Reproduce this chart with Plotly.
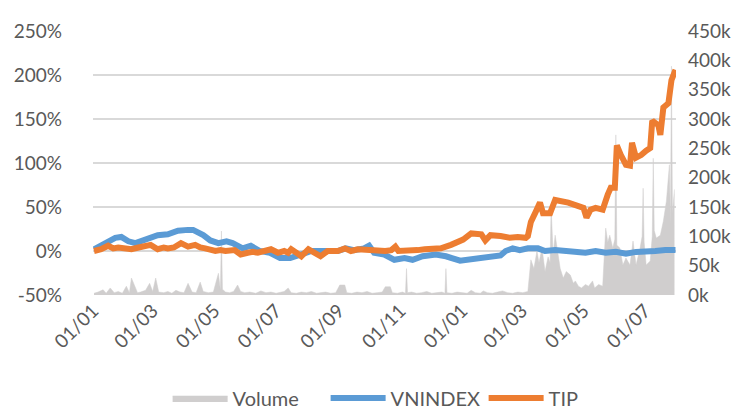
import plotly.graph_objects as go

# ---- data ----
tip_dates = ["2018-01-02","2018-01-09","2018-01-16","2018-01-21","2018-01-26","2018-02-03","2018-02-08",
             "2018-02-15","2018-02-21","2018-02-27","2018-03-06","2018-03-12","2018-03-16","2018-03-22",
             "2018-03-29","2018-04-05","2018-04-12","2018-04-17","2018-04-22","2018-04-27","2018-05-02",
             "2018-05-07","2018-05-12","2018-05-21","2018-05-27","2018-06-03","2018-06-08","2018-06-13",
             "2018-06-19","2018-06-26","2018-07-03","2018-07-09","2018-07-13","2018-07-16","2018-07-20",
             "2018-07-26","2018-08-02","2018-08-08","2018-08-14","2018-08-21","2018-08-31","2018-09-07",
             "2018-09-13","2018-09-20","2018-09-30","2018-10-10","2018-10-17","2018-10-23","2018-10-27",
             "2018-10-30","2018-11-09","2018-11-18","2018-11-25","2018-12-03","2018-12-11","2018-12-21",
             "2018-12-28","2019-01-02","2019-01-10","2019-01-17","2019-01-20","2019-01-24","2019-01-29",
             "2019-02-08","2019-02-17","2019-02-25","2019-03-05","2019-03-07","2019-03-10","2019-03-15",
             "2019-03-19","2019-03-22","2019-03-29","2019-04-03","2019-04-09","2019-04-16","2019-04-26",
             "2019-05-01","2019-05-04","2019-05-08","2019-05-13","2019-05-20","2019-05-25","2019-05-28",
             "2019-06-01","2019-06-03","2019-06-07","2019-06-12","2019-06-16","2019-06-18","2019-06-22",
             "2019-06-27","2019-07-02","2019-07-06","2019-07-08","2019-07-14","2019-07-16","2019-07-19",
             "2019-07-24","2019-07-27","2019-07-31"]
tip_pct = [0, 2, 6, 3, 4, 2, 2,
           4, 5, 7, 2, 4, 3, 4,
           9, 5, 7, 4, 3, 1, 0,
           1, 0, 1, -4, -2, -1, -2,
           0, 2, -2, 0, -2, 2, -1,
           -6, 2, -2, -6, 0, 0, 3,
           0, 2, 1, 1, 0, 1, 5,
           0, 0, 1, 2, 2, 3, 7,
           11, 13, 20, 20, 19, 12, 18,
           17, 15, 16, 15, 17, 33, 45,
           55, 43, 43, 58, 57, 55, 51,
           49, 38, 47, 49, 47, 64, 72,
           72, 120, 109, 98, 97, 123, 106,
           109, 114, 117, 148, 143, 132, 163,
           168, 194, 206]

vn_dates = ["2018-01-02","2018-01-11","2018-01-23","2018-01-29","2018-02-05","2018-02-12","2018-02-17",
            "2018-02-24","2018-03-06","2018-03-16","2018-03-26","2018-04-05","2018-04-10","2018-04-20",
            "2018-04-27","2018-05-05","2018-05-13","2018-05-19","2018-05-29","2018-06-06","2018-06-15",
            "2018-06-25","2018-07-05","2018-07-15","2018-07-25","2018-08-05","2018-08-18","2018-08-31",
            "2018-09-08","2018-09-16","2018-09-26","2018-10-01","2018-10-06","2018-10-16","2018-10-26",
            "2018-11-05","2018-11-13","2018-11-23","2018-12-06","2018-12-16","2018-12-30","2019-01-05",
            "2019-01-15","2019-01-29","2019-02-08","2019-02-13","2019-02-20","2019-02-27","2019-03-07",
            "2019-03-17","2019-03-24","2019-04-03","2019-04-13","2019-04-23","2019-05-03","2019-05-13",
            "2019-05-23","2019-06-02","2019-06-12","2019-06-22","2019-07-01","2019-07-11","2019-07-21",
            "2019-07-31"]
vn_pct = [2, 7, 15, 16, 11, 9, 11,
          15, 18, 19, 23, 24, 24, 18,
          12, 9, 11, 9, 3, 6, 0,
          -2, -8, -8, -4, 0, 0, 0,
          3, 1, 3, 6, -2, -4, -10,
          -8, -10, -6, -4, -6, -11, -10,
          -8, -6, -5, 0, 3, 1, 3,
          3, 0, 1, 0, -1, -2, 0,
          -2, -1, -3, -1, -1, 0, 1,
          1]

vol_dates = ["2018-01-02","2018-01-06","2018-01-11","2018-01-14","2018-01-18","2018-01-22","2018-01-26",
             "2018-01-30","2018-02-03","2018-02-06","2018-02-08","2018-02-11","2018-02-14","2018-02-17",
             "2018-02-22","2018-02-26","2018-03-01","2018-03-04","2018-03-07","2018-03-12","2018-03-16",
             "2018-03-20","2018-03-24","2018-03-28","2018-04-01","2018-04-05","2018-04-09","2018-04-13",
             "2018-04-17","2018-04-20","2018-04-25","2018-04-30","2018-05-05","2018-05-07","2018-05-08",
             "2018-05-09","2018-05-12","2018-05-16","2018-05-20","2018-05-24","2018-05-27","2018-05-31",
             "2018-06-05","2018-06-11","2018-06-16","2018-06-21","2018-06-26","2018-07-01","2018-07-05",
             "2018-07-09","2018-07-13","2018-07-16","2018-07-21","2018-07-26","2018-07-31","2018-08-05",
             "2018-08-10","2018-08-14","2018-08-19","2018-08-24","2018-08-29","2018-09-02","2018-09-07",
             "2018-09-09","2018-09-14","2018-09-19","2018-09-24","2018-09-29","2018-10-04","2018-10-09",
             "2018-10-14","2018-10-17","2018-10-22","2018-10-24","2018-10-29","2018-11-03","2018-11-06",
             "2018-11-07","2018-11-08","2018-11-12","2018-11-17","2018-11-22","2018-11-27","2018-12-02",
             "2018-12-07","2018-12-12","2018-12-15","2018-12-16","2018-12-17","2018-12-22","2018-12-27",
             "2019-01-01","2019-01-06","2019-01-10","2019-01-14","2019-01-19","2019-01-22","2019-01-26",
             "2019-01-31","2019-02-05","2019-02-10","2019-02-15","2019-02-20","2019-02-25","2019-03-02",
             "2019-03-07","2019-03-10","2019-03-13","2019-03-16","2019-03-18","2019-03-21","2019-03-24",
             "2019-03-27","2019-03-29","2019-03-30","2019-04-01","2019-04-03","2019-04-06","2019-04-08",
             "2019-04-11","2019-04-14","2019-04-18","2019-04-21","2019-04-23","2019-04-26","2019-04-29",
             "2019-05-03","2019-05-06","2019-05-10","2019-05-12","2019-05-16","2019-05-20","2019-05-23",
             "2019-05-25","2019-05-27","2019-05-30","2019-06-01","2019-06-02","2019-06-03","2019-06-06",
             "2019-06-09","2019-06-12","2019-06-16","2019-06-19","2019-06-22","2019-06-26","2019-06-28",
             "2019-06-29","2019-06-30","2019-07-02","2019-07-06","2019-07-08","2019-07-09","2019-07-10",
             "2019-07-12","2019-07-16","2019-07-19","2019-07-22","2019-07-25","2019-07-26","2019-07-27",
             "2019-07-28","2019-07-30"]
vol_k = [3, 5, 9, 3, 12, 4, 6,
         3, 15, 4, 29, 15, 4, 5,
         8, 20, 6, 29, 5, 4, 6,
         3, 8, 5, 4, 20, 5, 4,
         22, 6, 4, 5, 37, 8, 109,
         10, 5, 4, 6, 17, 6, 4,
         5, 3, 7, 4, 5, 3, 4,
         6, 12, 4, 3, 5, 4, 6,
         3, 4, 5, 3, 4, 17, 17,
         4, 3, 5, 4, 6, 3, 4,
         5, 14, 14, 4, 3, 5, 3,
         45, 4, 5, 3, 4, 6, 3,
         4, 5, 3, 45, 4, 3, 5,
         4, 3, 8, 4, 3, 7, 4,
         3, 5, 7, 4, 3, 5, 4,
         6, 60, 45, 75, 55, 80, 40,
         65, 55, 150, 70, 102, 68, 45,
         29, 40, 34, 20, 24, 15, 12,
         18, 15, 24, 12, 18, 15, 114,
         90, 102, 80, 95, 273, 85, 80,
         51, 63, 51, 92, 51, 80, 100,
         182, 90, 51, 58, 100, 233, 110,
         97, 102, 126, 160, 222, 120, 390,
         140, 180]

pct_ticks = [-50, 0, 50, 100, 150, 200, 250]
pct_labels = [f"{v}%" for v in pct_ticks]
vol_ticks = [0, 50, 100, 150, 200, 250, 300, 350, 400, 450]
vol_labels = [f"{v}k" for v in vol_ticks]

FONT = "Lato"
TXT = "#595959"
GRID = "#d9d9d9"
TICKSIZE = 19

fig = go.Figure()
fig.add_trace(go.Scatter(x=vol_dates, y=vol_k, name="Volume", mode="lines",
                         line=dict(color="#d0cece", width=0.5), fill="tozeroy",
                         fillcolor="#d0cece", yaxis="y"))
fig.add_trace(go.Scatter(x=vn_dates, y=vn_pct, name="VNINDEX", mode="lines",
                         line=dict(color="#5b9bd5", width=6), yaxis="y2"))
fig.add_trace(go.Scatter(x=tip_dates, y=tip_pct, name="TIP", mode="lines",
                         line=dict(color="#ed7d31", width=6), yaxis="y2"))

fig.update_layout(
    width=739, height=412,
    margin=dict(l=85, r=71, t=23, b=125, autoexpand=False),
    paper_bgcolor="white", plot_bgcolor="white",
    font=dict(family=FONT, size=TICKSIZE, color=TXT),
    showlegend=True,
    legend=dict(orientation="h", x=0.128, xanchor="left", y=-0.39, yanchor="middle",
                font=dict(family=FONT, size=20, color=TXT), traceorder="normal",
                itemwidth=55, entrywidth=88),
    xaxis=dict(type="date", range=["2018-01-01", "2019-07-31 12:00"],
               tick0="2018-01-01", dtick="M2", tickformat="%d/%m", tickangle=-45,
               showgrid=False, zeroline=False, showline=False, ticks="",
               tickfont=dict(family=FONT, size=TICKSIZE, color=TXT)),
    yaxis=dict(side="right", range=[0, 450], tickmode="array",
               tickvals=vol_ticks, ticktext=vol_labels,
               showgrid=False, zeroline=False, showline=False, ticks="",
               ticklabelstandoff=11,
               tickfont=dict(family=FONT, size=TICKSIZE, color=TXT)),
    yaxis2=dict(side="left", overlaying="y", range=[-50, 250], tickmode="array",
                tickvals=pct_ticks, ticktext=pct_labels,
                showgrid=True, gridcolor=GRID, gridwidth=1.5,
                zeroline=True, zerolinecolor=GRID, zerolinewidth=1.5,
                showline=False, ticks="", ticklabelstandoff=30,
                tickfont=dict(family=FONT, size=TICKSIZE, color=TXT)),
)

fig.write_html("out.html")
